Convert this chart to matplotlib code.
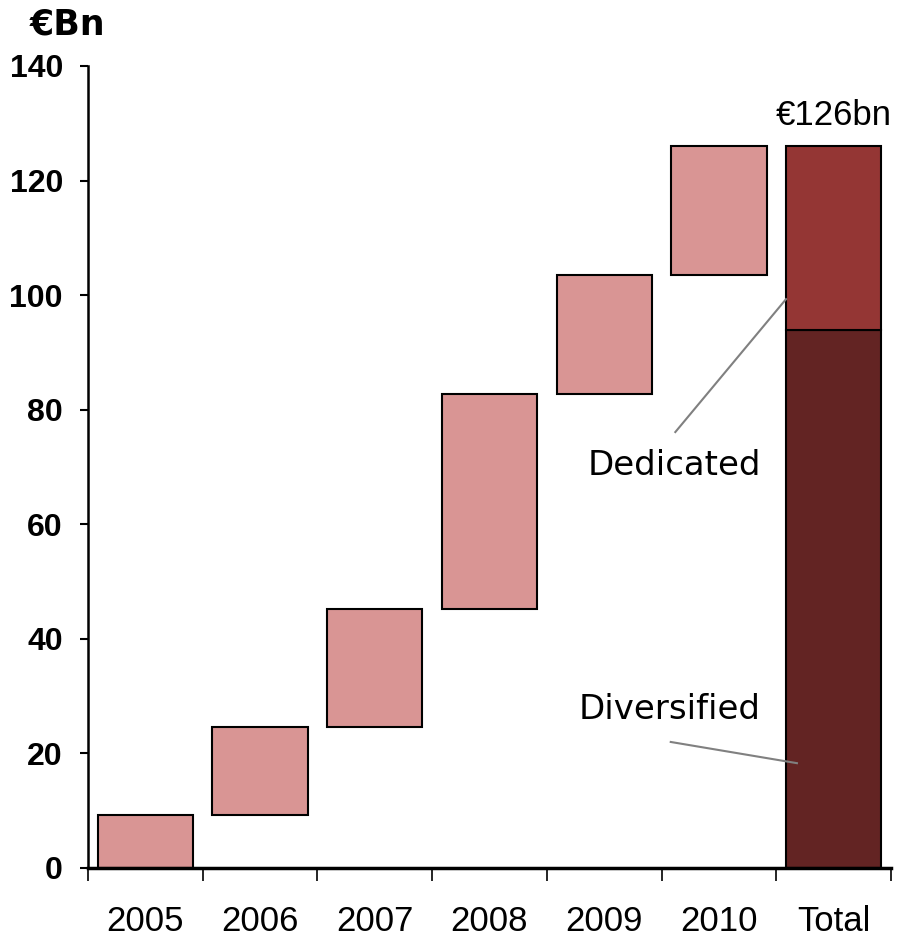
import numpy as np
import matplotlib
matplotlib.use('Agg')
import matplotlib.pyplot as plt

# Annual additions (EUR bn) and the split of the total
years = ['2005', '2006', '2007', '2008', '2009', '2010']
additions = [9.3, 15.3, 20.6, 37.5, 20.8, 22.5]
total_label = 'Total'
diversified = 94.0
dedicated = 32.0

light = '#D99594'
c_ded = '#943634'
c_div = '#632423'

fig = plt.figure(figsize=(8.97, 9.4), dpi=100)
ax = fig.add_axes([0.0981, 0.0766, 0.8952, 0.8532])

tops = np.cumsum(additions)
bottoms = tops - np.array(additions)
x = np.arange(len(years))
w = 0.83

ax.bar(x, additions, bottom=bottoms, width=w, color=light,
       edgecolor='black', linewidth=1.5)
xt = len(years)
ax.bar(xt, diversified, width=w, color=c_div, edgecolor='black', linewidth=1.5)
ax.bar(xt, dedicated, bottom=diversified, width=w, color=c_ded,
       edgecolor='black', linewidth=1.5)

ax.set_xlim(-0.5, len(years) + 0.5)
ax.set_ylim(0, 140)

# Category labels centred, ticks between categories
ax.set_xticks(np.arange(-0.5, len(years) + 1.0, 1.0))
ax.set_xticklabels([])
ax.set_xticks(np.arange(len(years) + 1), minor=True)
ax.set_xticklabels(years + [total_label], minor=True,
                   fontfamily='Liberation Sans', fontsize=25)
ax.tick_params(axis='x', which='major', direction='out', length=9, width=1.2)
ax.tick_params(axis='x', which='minor', length=0, pad=27)

ax.set_yticks(np.arange(0, 141, 20))
ax.tick_params(axis='y', direction='out', length=6, width=1.5, pad=12)
for lab in ax.get_yticklabels():
    lab.set_fontfamily('Liberation Sans')
    lab.set_fontweight('bold')
    lab.set_fontsize(23)

for s in ['top', 'right']:
    ax.spines[s].set_visible(False)
ax.spines['left'].set_linewidth(1.8)
ax.spines['bottom'].set_linewidth(2.5)

fig.text(0.033, 0.974, '€Bn', fontsize=25, fontweight='bold',
         family='DejaVu Sans', ha='left', va='center')

ax.text(xt, 131.3, '€126bn', fontsize=25, family='Liberation Sans',
        ha='center', va='center')

ax.plot([4.62, 5.585], [76.1, 99.3], color='#808080', lw=1.5)
ax.text(4.61, 70.2, 'Dedicated', fontsize=24.5, ha='center', va='center')
ax.plot([4.58, 5.68], [22.0, 18.3], color='#808080', lw=1.5)
ax.text(4.57, 27.6, 'Diversified', fontsize=24.5, ha='center', va='center')

fig.savefig('out.png', dpi=100)
